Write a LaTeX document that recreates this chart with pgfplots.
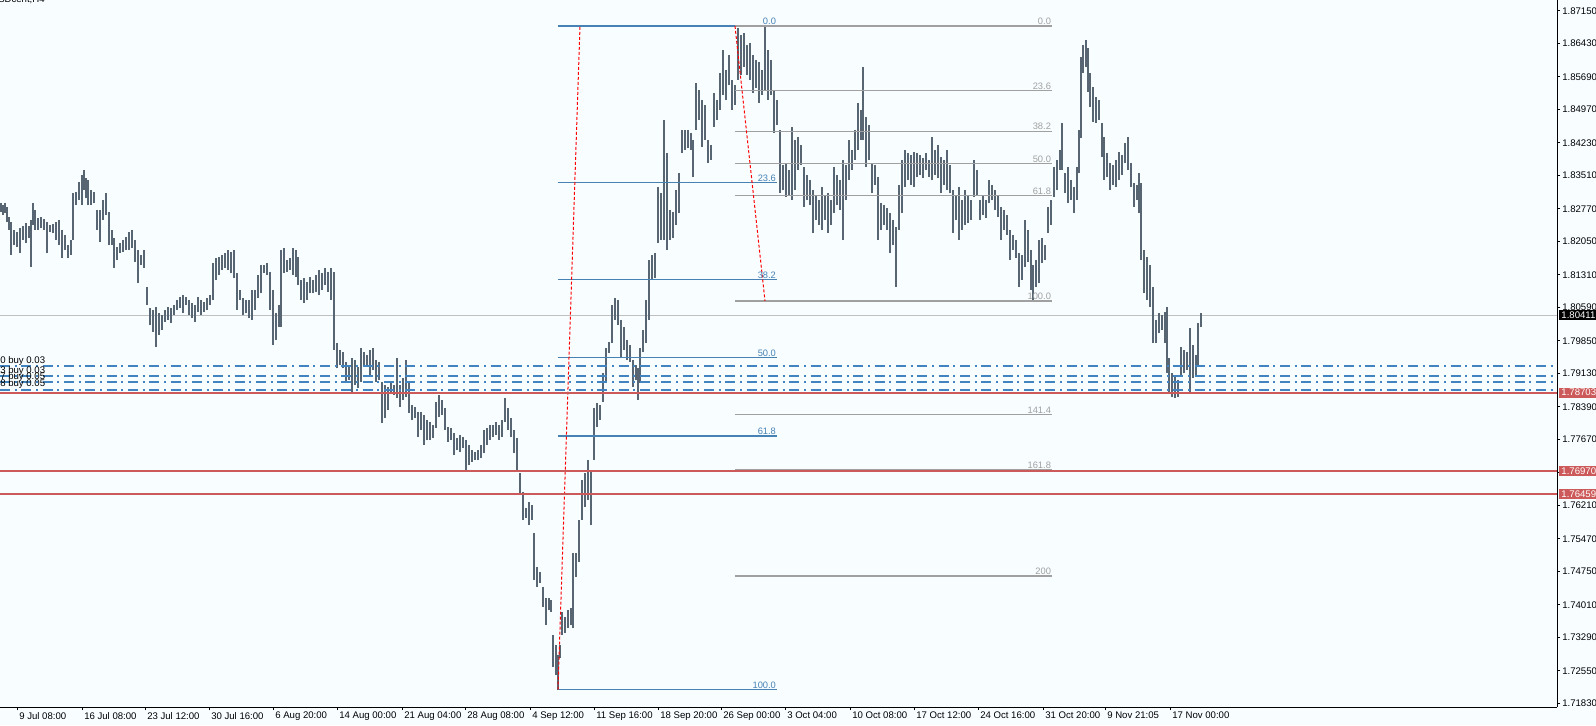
\documentclass[border=0pt]{standalone}
\usepackage{fontspec}
\setmainfont{Liberation Sans}
\usepackage{pgfplots}
\usepackage{pgfplotstable}
\pgfplotsset{compat=1.18}

\definecolor{bgcol}{RGB}{248,253,255}
\definecolor{barcol}{RGB}{88,101,114}
\definecolor{fibblue}{RGB}{70,130,180}
\definecolor{fibgray}{RGB}{160,160,160}
\definecolor{lvlred}{RGB}{205,90,90}
\definecolor{ordblue}{RGB}{66,132,192}
\definecolor{pricegray}{RGB}{192,192,192}

% H4 bars: x position (px along the time axis), low, high
\pgfplotstableread{
x lo hi
1 1.8270 1.8289
3 1.8263 1.8285
5 1.8267 1.8289
7 1.8248 1.8281
9 1.8230 1.8259
11 1.8175 1.8248
14 1.8197 1.8230
17 1.8193 1.8226
20 1.8179 1.8234
23 1.8208 1.8239
26 1.8201 1.8245
29 1.8212 1.8239
31 1.8148 1.8252
33 1.8241 1.8289
35 1.8230 1.8274
38 1.8230 1.8256
41 1.8234 1.8259
44 1.8230 1.8254
47 1.8179 1.8248
50 1.8226 1.8241
53 1.8223 1.8243
56 1.8208 1.8248
59 1.8197 1.8252
62 1.8168 1.8230
65 1.8186 1.8219
68 1.8168 1.8197
71 1.8175 1.8208
73 1.8208 1.8311
76 1.8285 1.8314
79 1.8296 1.8336
82 1.8285 1.8352
84 1.8318 1.8363
86 1.8300 1.8345
88 1.8285 1.8340
91 1.8285 1.8318
94 1.8289 1.8314
97 1.8230 1.8274
100 1.8204 1.8274
103 1.8252 1.8296
106 1.8263 1.8311
109 1.8197 1.8270
112 1.8197 1.8230
114 1.8146 1.8212
117 1.8164 1.8193
120 1.8179 1.8201
123 1.8182 1.8208
126 1.8186 1.8215
129 1.8186 1.8226
132 1.8190 1.8230
135 1.8160 1.8208
138 1.8112 1.8186
141 1.8153 1.8175
144 1.8146 1.8186
147 1.8064 1.8104
150 1.8020 1.8057
153 1.8005 1.8053
156 1.7972 1.8060
159 1.7998 1.8046
162 1.8009 1.8042
165 1.8027 1.8053
168 1.8031 1.8060
171 1.8024 1.8057
174 1.8042 1.8064
177 1.8053 1.8075
180 1.8057 1.8082
183 1.8046 1.8086
186 1.8064 1.8082
189 1.8042 1.8075
192 1.8035 1.8068
195 1.8027 1.8064
198 1.8049 1.8082
201 1.8042 1.8075
204 1.8049 1.8071
207 1.8053 1.8079
210 1.8064 1.8086
213 1.8075 1.8157
216 1.8119 1.8168
219 1.8130 1.8171
222 1.8141 1.8175
225 1.8146 1.8179
228 1.8141 1.8186
231 1.8134 1.8182
234 1.8123 1.8186
237 1.8053 1.8134
240 1.8075 1.8097
243 1.8042 1.8079
246 1.8046 1.8075
249 1.8035 1.8075
252 1.8031 1.8097
255 1.8053 1.8097
258 1.8079 1.8130
261 1.8090 1.8153
264 1.8134 1.8153
267 1.8130 1.8157
270 1.8053 1.8137
273 1.7976 1.8097
276 1.7987 1.8046
279 1.8015 1.8064
281 1.8015 1.8186
284 1.8134 1.8190
287 1.8137 1.8164
290 1.8141 1.8168
293 1.8130 1.8190
296 1.8126 1.8186
298 1.8108 1.8171
301 1.8075 1.8119
304 1.8068 1.8123
307 1.8075 1.8115
310 1.8090 1.8126
313 1.8090 1.8119
316 1.8093 1.8130
319 1.8086 1.8141
322 1.8097 1.8134
325 1.8108 1.8146
328 1.8093 1.8137
331 1.8075 1.8146
334 1.7965 1.8137
337 1.7924 1.7980
340 1.7931 1.7965
343 1.7924 1.7960
346 1.7891 1.7938
349 1.7898 1.7931
352 1.7872 1.7947
355 1.7887 1.7942
358 1.7880 1.7927
361 1.7894 1.7969
364 1.7927 1.7960
367 1.7931 1.7954
370 1.7909 1.7965
373 1.7920 1.7969
376 1.7894 1.7942
379 1.7898 1.7938
382 1.7803 1.7894
385 1.7814 1.7887
388 1.7832 1.7883
391 1.7869 1.7891
394 1.7865 1.7887
397 1.7858 1.7947
400 1.7839 1.7887
403 1.7854 1.7902
406 1.7860 1.7942
409 1.7825 1.7894
412 1.7810 1.7843
415 1.7814 1.7839
418 1.7772 1.7828
421 1.7788 1.7828
424 1.7754 1.7821
427 1.7765 1.7810
430 1.7765 1.7806
433 1.7770 1.7799
436 1.7792 1.7850
439 1.7817 1.7865
442 1.7821 1.7854
445 1.7788 1.7836
448 1.7761 1.7795
451 1.7765 1.7792
454 1.7732 1.7781
457 1.7743 1.7770
460 1.7739 1.7777
463 1.7748 1.7772
466 1.7699 1.7765
469 1.7710 1.7754
472 1.7717 1.7743
475 1.7721 1.7739
478 1.7721 1.7743
481 1.7725 1.7754
484 1.7736 1.7788
487 1.7754 1.7792
490 1.7765 1.7799
493 1.7772 1.7799
496 1.7777 1.7806
499 1.7765 1.7799
502 1.7772 1.7810
505 1.7806 1.7858
508 1.7788 1.7836
511 1.7772 1.7814
514 1.7736 1.7788
517 1.7699 1.7770
520 1.7648 1.7692
523 1.7588 1.7650
526 1.7593 1.7615
529 1.7577 1.7628
532 1.7588 1.7622
534 1.7456 1.7560
537 1.7441 1.7485
540 1.7450 1.7474
543 1.7397 1.7441
546 1.7356 1.7417
549 1.7389 1.7417
551 1.7385 1.7412
553 1.7264 1.7334
556 1.7246 1.7312
558 1.7212 1.7290
560 1.7283 1.7312
562 1.7334 1.7385
565 1.7338 1.7374
568 1.7349 1.7389
571 1.7356 1.7394
573 1.7349 1.7515
576 1.7463 1.7515
579 1.7496 1.7588
582 1.7588 1.7677
585 1.7617 1.7692
588 1.7633 1.7721
591 1.7577 1.7699
594 1.7721 1.7836
597 1.7795 1.7847
600 1.7810 1.7843
603 1.7850 1.7913
606 1.7891 1.7969
609 1.7958 1.7982
612 1.7980 1.8064
615 1.8031 1.8079
618 1.8020 1.8075
621 1.7949 1.8031
624 1.7965 1.8015
627 1.7942 1.7987
630 1.7938 1.7976
633 1.7883 1.7942
636 1.7898 1.7931
638 1.7854 1.7924
640 1.7891 1.7969
643 1.7960 1.8009
646 1.7980 1.8075
649 1.8031 1.8164
652 1.8119 1.8175
655 1.8123 1.8179
658 1.8201 1.8325
661 1.8208 1.8311
664 1.8208 1.8473
667 1.8186 1.8400
670 1.8208 1.8274
673 1.8212 1.8270
676 1.8241 1.8318
679 1.8267 1.8356
682 1.8400 1.8451
685 1.8407 1.8451
688 1.8411 1.8451
691 1.8407 1.8445
693 1.8347 1.8429
696 1.8451 1.8555
699 1.8473 1.8540
702 1.8414 1.8518
705 1.8429 1.8507
708 1.8378 1.8429
711 1.8385 1.8418
714 1.8458 1.8533
717 1.8473 1.8518
720 1.8495 1.8577
723 1.8529 1.8628
726 1.8518 1.8584
729 1.8551 1.8617
732 1.8495 1.8562
735 1.8507 1.8551
738 1.8562 1.8676
741 1.8573 1.8661
744 1.8591 1.8665
747 1.8573 1.8639
750 1.8562 1.8643
753 1.8533 1.8617
756 1.8544 1.8606
759 1.8511 1.8601
762 1.8529 1.8584
765 1.8540 1.8679
768 1.8518 1.8628
771 1.8529 1.8606
774 1.8445 1.8540
777 1.8462 1.8518
780 1.8312 1.8451
783 1.8318 1.8374
786 1.8303 1.8378
789 1.8307 1.8363
792 1.8296 1.8458
795 1.8318 1.8429
798 1.8363 1.8436
801 1.8374 1.8418
804 1.8281 1.8369
807 1.8296 1.8352
810 1.8285 1.8340
813 1.8223 1.8318
816 1.8252 1.8307
819 1.8241 1.8296
822 1.8230 1.8325
825 1.8252 1.8307
828 1.8223 1.8311
831 1.8241 1.8296
834 1.8267 1.8369
837 1.8285 1.8352
840 1.8274 1.8340
843 1.8208 1.8385
846 1.8296 1.8374
849 1.8340 1.8429
852 1.8363 1.8407
855 1.8385 1.8451
858 1.8407 1.8511
861 1.8429 1.8495
863 1.8429 1.8591
866 1.8369 1.8480
869 1.8385 1.8462
872 1.8311 1.8378
875 1.8329 1.8374
878 1.8208 1.8347
881 1.8230 1.8289
884 1.8241 1.8285
887 1.8230 1.8278
890 1.8179 1.8267
893 1.8197 1.8252
896 1.8104 1.8237
899 1.8230 1.8329
902 1.8267 1.8385
905 1.8325 1.8407
908 1.8340 1.8400
911 1.8329 1.8396
914 1.8325 1.8403
917 1.8347 1.8400
920 1.8352 1.8396
923 1.8345 1.8389
926 1.8363 1.8400
929 1.8347 1.8385
932 1.8340 1.8436
935 1.8352 1.8407
938 1.8345 1.8418
941 1.8311 1.8391
944 1.8329 1.8385
947 1.8318 1.8407
950 1.8311 1.8374
953 1.8223 1.8318
956 1.8252 1.8307
959 1.8208 1.8325
962 1.8230 1.8296
965 1.8241 1.8318
968 1.8245 1.8307
971 1.8252 1.8296
974 1.8303 1.8385
977 1.8307 1.8363
980 1.8252 1.8296
983 1.8263 1.8307
986 1.8256 1.8296
989 1.8289 1.8340
992 1.8296 1.8329
995 1.8274 1.8318
998 1.8259 1.8307
1001 1.8208 1.8281
1004 1.8230 1.8274
1007 1.8219 1.8263
1010 1.8164 1.8230
1013 1.8186 1.8219
1016 1.8168 1.8208
1019 1.8104 1.8179
1022 1.8119 1.8175
1025 1.8148 1.8252
1028 1.8160 1.8230
1031 1.8097 1.8186
1033 1.8075 1.8153
1036 1.8104 1.8164
1039 1.8112 1.8208
1042 1.8157 1.8212
1045 1.8164 1.8197
1048 1.8223 1.8281
1051 1.8241 1.8296
1054 1.8303 1.8369
1057 1.8318 1.8385
1060 1.8363 1.8407
1062 1.8363 1.8467
1065 1.8311 1.8356
1068 1.8289 1.8369
1071 1.8296 1.8340
1074 1.8267 1.8325
1077 1.8296 1.8369
1079 1.8356 1.8451
1081 1.8433 1.8613
1083 1.8577 1.8639
1086 1.8591 1.8650
1088 1.8535 1.8632
1090 1.8502 1.8577
1093 1.8469 1.8547
1096 1.8467 1.8524
1099 1.8473 1.8518
1102 1.8392 1.8467
1104 1.8340 1.8436
1107 1.8347 1.8400
1110 1.8318 1.8378
1113 1.8329 1.8374
1116 1.8325 1.8385
1119 1.8340 1.8403
1122 1.8352 1.8396
1125 1.8378 1.8422
1128 1.8363 1.8436
1131 1.8325 1.8378
1134 1.8281 1.8334
1137 1.8296 1.8329
1139 1.8267 1.8356
1141 1.8164 1.8334
1144 1.8090 1.8186
1147 1.8075 1.8171
1150 1.8060 1.8153
1153 1.7980 1.8104
1156 1.7980 1.8031
1159 1.8002 1.8046
1162 1.8009 1.8042
1165 1.7980 1.8049
1167 1.7913 1.8060
1169 1.7872 1.7947
1172 1.7860 1.7913
1175 1.7858 1.7905
1178 1.7860 1.7898
1181 1.7905 1.7971
1184 1.7913 1.7965
1187 1.7920 1.7960
1190 1.7872 1.8013
1193 1.7902 1.7976
1196 1.7909 1.7954
1198 1.7927 1.8024
1201 1.8015 1.8046
}\bars

\begin{document}
\begin{tikzpicture}
\fill[bgcol] (0,-13.5pt) rectangle (1197pt,530.25pt);
\begin{axis}[
    at={(0,0)}, anchor=south west,
    width=1167.75pt, height=530.25pt, scale only axis,
    xmin=0, xmax=1557, ymin=1.71748, ymax=1.87387,
    axis x line=bottom, axis y line=right,
    axis line style={-, black, line width=0.75pt},
    tick align=outside, major tick length=2.25pt,
    tick style={black, line width=0.75pt},
    clip=false,
    xtick={17,82,145,209,273,337,402,465,530,594,658,721,785,850,914,978,1043,1105,1170},
    xticklabels={9 Jul 08:00,16 Jul 08:00,23 Jul 12:00,30 Jul 16:00,6 Aug 20:00,14 Aug 00:00,21 Aug 04:00,28 Aug 08:00,4 Sep 12:00,11 Sep 16:00,18 Sep 20:00,26 Sep 00:00,3 Oct 04:00,10 Oct 08:00,17 Oct 12:00,24 Oct 16:00,31 Oct 20:00,9 Nov 21:05,17 Nov 00:00},
    xticklabel style={anchor=north west, font=\fontsize{7.2}{8}\selectfont, inner sep=1.5pt},
    ytick={1.87150,1.86430,1.85690,1.84970,1.84230,1.83510,1.82770,1.82050,1.81310,1.80590,1.79850,1.79130,1.78390,1.77670,1.76930,1.76210,1.75470,1.74750,1.74010,1.73290,1.72550,1.71830},
    yticklabels={1.87150,1.86430,1.85690,1.84970,1.84230,1.83510,1.82770,1.82050,1.81310,1.80590,1.79850,1.79130,1.78390,1.77670,1.76930,1.76210,1.75470,1.74750,1.74010,1.73290,1.72550,1.71830},
    yticklabel style={anchor=west, font=\fontsize{7.2}{8}\selectfont, inner sep=1.5pt},
]
% current bid line
\addplot[pricegray, line width=0.75pt] coordinates {(0,1.80411)(1557,1.80411)};

% price bars (low to high)
\addplot[draw=none, forget plot,
    error bars/.cd, y dir=plus, y explicit, error mark=none,
    error bar style={draw=barcol, line width=0.8pt}]
    table[x=x, y=lo, y error expr=\thisrow{hi}-\thisrow{lo}] {\bars};

% first Fibonacci retracement (blue)
\addplot[fibblue, line width=0.8pt] coordinates {(558,1.86812)(777,1.86812)};
\addplot[fibblue, line width=0.8pt] coordinates {(558,1.83348)(777,1.83348)};
\addplot[fibblue, line width=0.8pt] coordinates {(558,1.81205)(777,1.81205)};
\addplot[fibblue, line width=0.8pt] coordinates {(558,1.79474)(777,1.79474)};
\addplot[fibblue, line width=0.8pt] coordinates {(558,1.77742)(777,1.77742)};
\addplot[fibblue, line width=0.8pt] coordinates {(558,1.72135)(777,1.72135)};

% second Fibonacci (gray)
\addplot[fibgray, line width=0.8pt] coordinates {(735,1.86812)(1052,1.86812)};
\addplot[fibgray, line width=0.8pt] coordinates {(735,1.85376)(1052,1.85376)};
\addplot[fibgray, line width=0.8pt] coordinates {(735,1.84488)(1052,1.84488)};
\addplot[fibgray, line width=0.8pt] coordinates {(735,1.83771)(1052,1.83771)};
\addplot[fibgray, line width=0.8pt] coordinates {(735,1.83053)(1052,1.83053)};
\addplot[fibgray, line width=0.8pt] coordinates {(735,1.80729)(1052,1.80729)};
\addplot[fibgray, line width=0.8pt] coordinates {(735,1.78211)(1052,1.78211)};
\addplot[fibgray, line width=0.8pt] coordinates {(735,1.77000)(1052,1.77000)};
\addplot[fibgray, line width=0.8pt] coordinates {(735,1.74646)(1052,1.74646)};

% trend lines of the two retracements
\addplot[red, line width=0.75pt, dash pattern=on 2.25pt off 1.5pt] coordinates {(558,1.72135)(580,1.86812)};
\addplot[red, line width=0.75pt, dash pattern=on 2.25pt off 1.5pt] coordinates {(735,1.86812)(765,1.80729)};

% open orders
\addplot[ordblue, line width=0.95pt, dash pattern=on 7.5pt off 3.5pt on 1.5pt off 3.5pt] coordinates {(0,1.79291)(1557,1.79291)};
\addplot[ordblue, line width=0.95pt, dash pattern=on 7.5pt off 3.5pt on 1.5pt off 3.5pt] coordinates {(0,1.79070)(1557,1.79070)};
\addplot[ordblue, line width=0.95pt, dash pattern=on 7.5pt off 3.5pt on 1.5pt off 3.5pt] coordinates {(0,1.78937)(1557,1.78937)};
\addplot[ordblue, line width=0.95pt, dash pattern=on 7.5pt off 3.5pt on 1.5pt off 3.5pt] coordinates {(0,1.78760)(1557,1.78760)};

% horizontal levels
\addplot[lvlred, line width=1.5pt] coordinates {(0,1.78703)(1557,1.78703)};
\addplot[lvlred, line width=1.5pt] coordinates {(0,1.76970)(1557,1.76970)};
\addplot[lvlred, line width=1.5pt] coordinates {(0,1.76459)(1557,1.76459)};

% level labels
\begin{scope}[every node/.style={font=\fontsize{7}{8}\selectfont, inner sep=0.6pt, anchor=south east}]
\node[text=fibblue] at (axis cs:777,1.86812) {0.0};
\node[text=fibblue] at (axis cs:777,1.83348) {23.6};
\node[text=fibblue] at (axis cs:777,1.81205) {38.2};
\node[text=fibblue] at (axis cs:777,1.79474) {50.0};
\node[text=fibblue] at (axis cs:777,1.77742) {61.8};
\node[text=fibblue] at (axis cs:777,1.72135) {100.0};
\node[text=fibgray] at (axis cs:1052,1.86812) {0.0};
\node[text=fibgray] at (axis cs:1052,1.85376) {23.6};
\node[text=fibgray] at (axis cs:1052,1.84488) {38.2};
\node[text=fibgray] at (axis cs:1052,1.83771) {50.0};
\node[text=fibgray] at (axis cs:1052,1.83053) {61.8};
\node[text=fibgray] at (axis cs:1052,1.80729) {100.0};
\node[text=fibgray] at (axis cs:1052,1.78211) {141.4};
\node[text=fibgray] at (axis cs:1052,1.77000) {161.8};
\node[text=fibgray] at (axis cs:1052,1.74646) {200};
\end{scope}

% order labels, cut at the left edge
\begin{scope}[every node/.style={font=\fontsize{7.2}{8}\selectfont, inner sep=0pt, anchor=base west}]
\node at (axis cs:0,1.7935) {0 buy 0.03};
\node at (axis cs:0,1.7913) {3 buy 0.03};
\node at (axis cs:0,1.7900) {7 buy 0.05};
\node at (axis cs:0,1.7883) {8 buy 0.05};
\end{scope}

% price tags on the scale
\begin{scope}[every node/.style={font=\fontsize{7.2}{8}\selectfont, text=white, anchor=west, inner xsep=1.6pt, inner ysep=1.2pt}]
\node[fill=black] at (axis cs:1559,1.80411) {1.80411};
\node[fill=lvlred] at (axis cs:1559,1.78703) {1.78703};
\node[fill=lvlred] at (axis cs:1559,1.76970) {1.76970};
\node[fill=lvlred] at (axis cs:1559,1.76459) {1.76459};
\end{scope}

\node[anchor=base west, inner sep=0pt, font=\fontsize{7.2}{8}\selectfont, xshift=-1.5pt, yshift=-2.2pt] at (rel axis cs:0,1) {SDcent,H4};
\end{axis}
\pgfresetboundingbox
\path[use as bounding box] (0,-13.5pt) rectangle (1197pt,530.25pt);
\end{tikzpicture}
\end{document}
